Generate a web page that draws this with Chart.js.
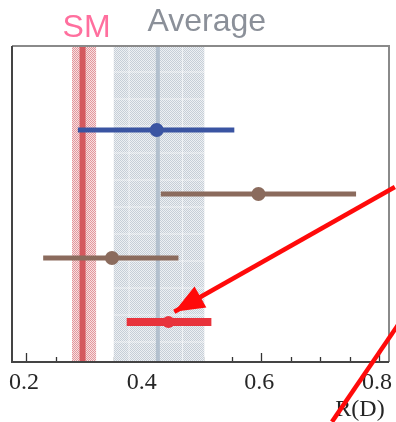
<!DOCTYPE html>
<html>
<head>
<meta charset="utf-8">
<script src="https://cdn.jsdelivr.net/npm/chart.js@4.4.1/dist/chart.umd.min.js"></script>
<style>
  html, body { margin: 0; padding: 0; background: #ffffff; }
  #wrap { width: 396px; height: 422px; position: relative; }
</style>
</head>
<body>
<div id="wrap"><canvas id="c" width="396" height="422"></canvas></div>
<script>
// ---- data ----
const xTickLabels = [0.2, 0.4, 0.6, 0.8];
const xMinorTicks = [0.25, 0.3, 0.35, 0.45, 0.5, 0.55, 0.65, 0.7, 0.75];
const rowNames = ['Blue', 'Brown 1', 'Brown 2', 'Red'];
const rowPos = [3, 2, 1, 0];
const centers = [0.422, 0.595, 0.346, 0.442];
const lows = [0.288, 0.429, 0.229, 0.371];
const highs = [0.554, 0.761, 0.459, 0.515];
const smValue = 0.296;
const smBand = [0.278, 0.319];
const avgValue = 0.424;
const avgBand = [0.349, 0.503];
const axisTitle = 'R(D)';
// annotation arrows (data coordinates)
const arrow1 = [{x: 0.827, y: 2.11}, {x: 0.452, y: 0.16}];
const arrow2 = [{x: 0.720, y: -1.56}, {x: 0.832, y: -0.05}];

// ---- styles ----
const rowColors = ['#3a54a2', '#8b6b5d', '#8b6b5d', '#e8333c'];
const rowWidths = [5, 5, 5, 8];
const rowRadius = [7, 7, 7, 6];

function makePattern(fg, bg) {
  const cv = document.createElement('canvas');
  cv.width = 4; cv.height = 4;
  const g = cv.getContext('2d');
  g.fillStyle = bg; g.fillRect(0, 0, 4, 4);
  g.fillStyle = fg;
  g.fillRect(0, 0, 1, 1); g.fillRect(2, 0, 1, 1);
  g.fillRect(1, 1, 1, 1); g.fillRect(3, 1, 1, 1);
  g.fillRect(0, 2, 1, 1); g.fillRect(2, 2, 1, 1);
  g.fillRect(1, 3, 1, 1); g.fillRect(3, 3, 1, 1);
  return g.createPattern(cv, 'repeat');
}

const datasets = [];
rowNames.forEach((n, i) => {
  datasets.push({
    type: 'line', label: n,
    data: [{x: lows[i], y: rowPos[i]}, {x: highs[i], y: rowPos[i]}],
    borderColor: rowColors[i], borderWidth: rowWidths[i],
    pointRadius: 0, borderCapStyle: 'butt', order: 2
  });
});
datasets.push({
  type: 'scatter', label: 'centers',
  data: rowNames.map((n, i) => ({x: centers[i], y: rowPos[i]})),
  pointRadius: rowRadius, pointBackgroundColor: rowColors,
  pointBorderWidth: 0, order: 1
});
datasets.push({
  type: 'line', label: 'arrow1', data: arrow1, clip: false,
  borderColor: '#ff0a0a', borderWidth: 4.5, pointRadius: 0, order: 0, arrow: true
});
datasets.push({
  type: 'line', label: 'arrow2', data: arrow2, clip: false,
  borderColor: '#ff0a0a', borderWidth: 4.5, pointRadius: 0, order: 0
});

const decor = {
  id: 'decor',
  beforeDatasetsDraw(chart) {
    const {ctx, chartArea: a, scales: {x}} = chart;
    ctx.save();
    // ticks (inward)
    ctx.strokeStyle = '#333'; ctx.lineWidth = 1.3;
    xTickLabels.forEach(v => {
      const px = Math.round(x.getPixelForValue(v)) + 0.5;
      ctx.beginPath(); ctx.moveTo(px, a.bottom); ctx.lineTo(px, a.bottom - 9); ctx.stroke();
    });
    xMinorTicks.forEach(v => {
      const px = Math.round(x.getPixelForValue(v)) + 0.5;
      ctx.beginPath(); ctx.moveTo(px, a.bottom); ctx.lineTo(px, a.bottom - 5); ctx.stroke();
    });
    // average band
    const ax0 = x.getPixelForValue(avgBand[0]), ax1 = x.getPixelForValue(avgBand[1]);
    ctx.fillStyle = makePattern('#c6ced7', '#edf0f3');
    ctx.fillRect(ax0, a.top, ax1 - ax0, a.bottom - a.top);
    ctx.strokeStyle = 'rgba(255,255,255,0.6)'; ctx.lineWidth = 1;
    for (let yy = a.top + 26; yy < a.bottom; yy += 27) {
      ctx.beginPath(); ctx.moveTo(ax0, yy); ctx.lineTo(ax1, yy); ctx.stroke();
    }
    [0.375, 0.466].forEach(v => {
      const px = x.getPixelForValue(v);
      ctx.beginPath(); ctx.moveTo(px, a.top); ctx.lineTo(px, a.bottom); ctx.stroke();
    });
    const apx = x.getPixelForValue(avgValue);
    ctx.strokeStyle = '#b3c0ce'; ctx.lineWidth = 4;
    ctx.beginPath(); ctx.moveTo(apx, a.top); ctx.lineTo(apx, a.bottom); ctx.stroke();
    // SM band
    const sx0 = x.getPixelForValue(smBand[0]), sx1 = x.getPixelForValue(smBand[1]);
    ctx.fillStyle = makePattern('#e3979d', '#f7dfe0');
    ctx.fillRect(sx0, a.top, sx1 - sx0, a.bottom - a.top);
    const spx = x.getPixelForValue(smValue);
    ctx.strokeStyle = '#d4585e'; ctx.lineWidth = 6;
    ctx.beginPath(); ctx.moveTo(spx, a.top); ctx.lineTo(spx, a.bottom); ctx.stroke();
    // frame
    ctx.lineWidth = 2;
    ctx.strokeStyle = '#8a8a8a';
    ctx.beginPath(); ctx.moveTo(a.left, a.top); ctx.lineTo(a.right, a.top); ctx.lineTo(a.right, a.bottom); ctx.stroke();
    ctx.strokeStyle = '#444';
    ctx.beginPath(); ctx.moveTo(a.left, a.top); ctx.lineTo(a.left, a.bottom); ctx.lineTo(a.right, a.bottom); ctx.stroke();
    // tick labels
    ctx.fillStyle = '#262626';
    ctx.font = '24px "Liberation Serif", "DejaVu Serif", serif';
    ctx.textAlign = 'center'; ctx.textBaseline = 'alphabetic';
    xTickLabels.forEach(v => {
      ctx.fillText(v.toFixed(1), x.getPixelForValue(v) - 2, a.bottom + 27);
    });
    ctx.fillText(axisTitle, 360, a.bottom + 54);
    // band titles
    ctx.font = '32px "Liberation Sans", Arial, sans-serif';
    ctx.fillStyle = '#ff6f9e';
    ctx.fillText('SM', x.getPixelForValue(smValue) + 4, 37);
    ctx.fillStyle = '#8b9099';
    ctx.fillText('Average', x.getPixelForValue(avgValue) + 49, 31);
    ctx.restore();
  },
  afterDatasetsDraw(chart) {
    const {ctx} = chart;
    chart.data.datasets.forEach((ds, i) => {
      if (!ds.arrow) return;
      const pts = chart.getDatasetMeta(i).data;
      const p0 = pts[0], p1 = pts[pts.length - 1];
      const ang = Math.atan2(p1.y - p0.y, p1.x - p0.x);
      const L = 30, W = 12;
      ctx.save();
      ctx.fillStyle = ds.borderColor;
      ctx.translate(p1.x, p1.y); ctx.rotate(ang);
      ctx.beginPath(); ctx.moveTo(0, 0); ctx.lineTo(-L, -W); ctx.lineTo(-L, W); ctx.closePath(); ctx.fill();
      ctx.restore();
    });
  }
};

new Chart(document.getElementById('c'), {
  type: 'line',
  data: { datasets },
  options: {
    responsive: false, animation: false, devicePixelRatio: 1,
    layout: { padding: { left: 12, right: 6, top: 46, bottom: 60 } },
    scales: {
      x: { type: 'linear', min: 0.176, max: 0.817, display: false },
      y: { type: 'linear', min: -0.625, max: 4.3125, display: false }
    },
    plugins: { legend: { display: false }, tooltip: { enabled: false } }
  },
  plugins: [decor]
});
</script>
</body>
</html>
